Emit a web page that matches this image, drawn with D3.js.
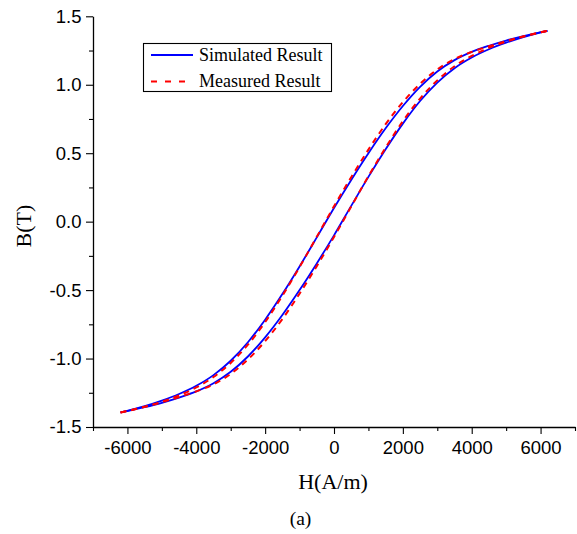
<!DOCTYPE html>
<html>
<head>
<meta charset="utf-8">
<script src="https://cdn.jsdelivr.net/npm/d3@7"></script>
<style>
  html, body { margin: 0; padding: 0; background: #fff; }
  svg { display: block; }
</style>
</head>
<body>
<svg id="chart" width="577" height="534"></svg>
<script>
// ---- Data ----
const fieldH = [-6200, -5500, -5000, -4500, -4000, -3500, -3000, -2500, -2000, -1500, -1000, -500, 0,
                500, 1000, 1500, 2000, 2500, 3000, 3500, 4000, 4500, 5000, 5500, 6200];
// Simulated, descending branch (upper curve)
const simDescB = [-1.394, -1.348, -1.307, -1.259, -1.199, -1.121, -1.016, -0.881, -0.716, -0.529, -0.327, -0.115, 0.100,
                  0.305, 0.500, 0.682, 0.845, 0.985, 1.097, 1.180, 1.240, 1.285, 1.323, 1.355, 1.394];
// Simulated, ascending branch (lower curve)
const simAscB = [-1.394, -1.355, -1.323, -1.285, -1.240, -1.180, -1.097, -0.985, -0.845, -0.682, -0.500, -0.305, -0.100,
                 0.115, 0.327, 0.529, 0.716, 0.881, 1.016, 1.121, 1.199, 1.259, 1.307, 1.348, 1.394];
// Measured, descending branch
const measDescB = [-1.394, -1.353, -1.315, -1.269, -1.211, -1.135, -1.032, -0.899, -0.734, -0.541, -0.332, -0.110, 0.112,
                   0.325, 0.526, 0.712, 0.873, 1.007, 1.112, 1.188, 1.240, 1.281, 1.319, 1.352, 1.394];
// Measured, ascending branch
const measAscB = [-1.394, -1.352, -1.319, -1.281, -1.240, -1.188, -1.112, -1.007, -0.873, -0.712, -0.526, -0.325, -0.112,
                  0.110, 0.332, 0.541, 0.734, 0.899, 1.032, 1.135, 1.211, 1.269, 1.315, 1.353, 1.394];

const xMajorTicks = [-6000, -4000, -2000, 0, 2000, 4000, 6000];
const xMinorTicks = [-7000, -5000, -3000, -1000, 1000, 3000, 5000, 7000];
const yMajorTicks = [-1.5, -1.0, -0.5, 0.0, 0.5, 1.0, 1.5];
const yMinorTicks = [-1.25, -0.75, -0.25, 0.25, 0.75, 1.25];
const legendLabels = ["Simulated Result", "Measured Result"];

// ---- Layout ----
const svg = d3.select("#chart");
const x = d3.scaleLinear().domain([-7000, 7000]).range([93, 575]);
const y = d3.scaleLinear().domain([-1.5, 1.5]).range([427, 16.3]);

const axisColor = "#000";
const tickFont = "'Liberation Sans', Arial, sans-serif";
const serifFont = "'Liberation Serif', 'Times New Roman', serif";

// X axis
const gx = svg.append("g").attr("transform", `translate(0,${y(-1.5)})`);
gx.call(d3.axisBottom(x).tickValues(xMajorTicks).tickSize(7).tickSizeOuter(0).tickPadding(7)
        .tickFormat(d => String(d)));
gx.append("g").call(d3.axisBottom(x).tickValues(xMinorTicks).tickSize(4).tickSizeOuter(0).tickFormat(""))
  .select(".domain").remove();
gx.selectAll("text").attr("font-family", tickFont).attr("font-size", 18.5).attr("fill", "#000");

// Y axis
const gy = svg.append("g").attr("transform", `translate(${x(-7000)},0)`);
gy.call(d3.axisLeft(y).tickValues(yMajorTicks).tickSize(7).tickSizeOuter(0).tickPadding(4.5)
        .tickFormat(d => d.toFixed(1)));
gy.append("g").call(d3.axisLeft(y).tickValues(yMinorTicks).tickSize(4).tickSizeOuter(0).tickFormat(""))
  .select(".domain").remove();
gy.selectAll("text").attr("font-family", tickFont).attr("font-size", 18.5).attr("fill", "#000");

svg.selectAll(".domain").attr("stroke", axisColor).attr("stroke-width", 1.3);
svg.selectAll(".tick line").attr("stroke", axisColor).attr("stroke-width", 1.1);

// Axis titles
svg.append("text").attr("x", 333).attr("y", 489).attr("text-anchor", "middle")
  .attr("font-family", serifFont).attr("font-size", 22).text("H(A/m)");
svg.append("text").attr("transform", "translate(31,226) rotate(-90)").attr("text-anchor", "middle")
  .attr("font-family", serifFont).attr("font-size", 22).text("B(T)");
svg.append("text").attr("x", 300.5).attr("y", 525).attr("text-anchor", "middle")
  .attr("font-family", serifFont).attr("font-size", 19.5).text("(a)");

// ---- Curves ----
const line = d3.line().x(d => x(d[0])).y(d => y(d[1])).curve(d3.curveMonotoneX);
const zip = (hs, bs) => hs.map((h, i) => [h, bs[i]]);

const plot = svg.append("g");
[simDescB, simAscB].forEach(bs => {
  plot.append("path").datum(zip(fieldH, bs)).attr("d", line)
    .attr("fill", "none").attr("stroke", "#0000ff").attr("stroke-width", 1.8);
});
[measDescB, measAscB].forEach(bs => {
  plot.append("path").datum(zip(fieldH, bs)).attr("d", line)
    .attr("fill", "none").attr("stroke", "#ff0000").attr("stroke-width", 2)
    .attr("stroke-dasharray", "6,5");
});

// ---- Legend ----
const lg = svg.append("g");
lg.append("rect").attr("x", 143.5).attr("y", 43.5).attr("width", 188).attr("height", 48)
  .attr("fill", "#fff").attr("stroke", "#000").attr("stroke-width", 1.1);
const legendStyles = [{color: "#0000ff", dash: null, w: 1.8}, {color: "#ff0000", dash: "6,8", w: 2}];
legendLabels.forEach((label, i) => {
  const ly = 55 + i * 26.5;
  const ln = lg.append("line").attr("x1", 151).attr("x2", 193).attr("y1", ly).attr("y2", ly)
    .attr("stroke", legendStyles[i].color).attr("stroke-width", legendStyles[i].w);
  if (legendStyles[i].dash) ln.attr("stroke-dasharray", legendStyles[i].dash);
  lg.append("text").attr("x", 199).attr("y", ly + 5.5)
    .attr("font-family", serifFont).attr("font-size", 18).text(label);
});
</script>
</body>
</html>
